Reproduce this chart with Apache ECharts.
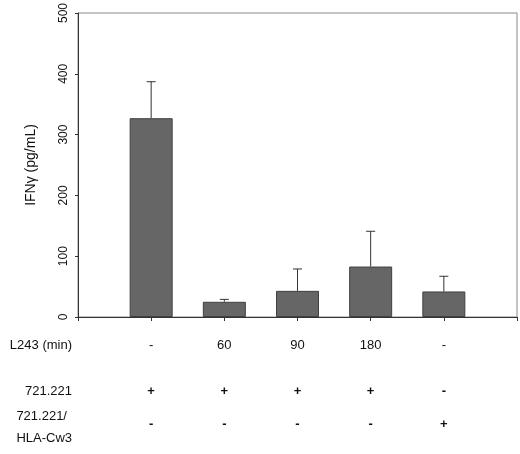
<!DOCTYPE html>
<html>
<head>
    <meta charset="utf-8" />
    <title>IFNγ</title>
    <style>
    html, body { margin: 0; padding: 0; background: #fff; }
    #chart { width: 520px; height: 454px; }
    </style>
    <script src="https://cdn.jsdelivr.net/npm/echarts@6/dist/echarts.min.js"></script>
</head>
<body>
    <div id="chart"></div>
    <script>
    // bar positions and values
    var positions = [1, 2, 3, 4, 5];
    var means = [327, 25, 43, 83, 42];
    var upper = [387, 29, 79, 141, 67];

    // table under the chart
    var rowNames = ['L243 (min)', '721.221', '721.221/\nHLA-Cw3'];
    var rowL243 = ['-', '60', '90', '180', '-'];
    var row721 = ['+', '+', '+', '+', '-'];
    var rowCw3 = ['-', '-', '-', '-', '+'];

    var yTicks = [0, 100, 200, 300, 400, 500];

    var font = 'Liberation Sans, Arial, sans-serif';

    var barData = positions.map(function(p, i) { return [p, means[i]]; });
    var errData = positions.map(function(p, i) { return [p, means[i], upper[i]]; });

    var chart = echarts.init(document.getElementById('chart'));

    var option = {
        animation: false,
        grid: {
            left: 78,
            right: 3,
            top: 11,
            bottom: 137,
            show: true,
            borderColor: '#8a8a8a',
            borderWidth: 1
        },
        xAxis: {
            type: 'value',
            min: 0,
            max: 6,
            interval: 1,
            splitLine: { show: false },
            axisLine: { lineStyle: { color: '#333', width: 1 } },
            axisTick: { show: true, inside: false, length: 4, lineStyle: { color: '#333' } },
            axisLabel: {
                margin: 8,
                fontFamily: font,
                color: '#111',
                formatter: function(v) {
                    var i = positions.indexOf(v);
                    if (i < 0) return '';
                    return '{a|' + rowL243[i] + '}\n{b|' + row721[i] + '}\n{c|' + rowCw3[i] + '}';
                },
                rich: {
                    a: { fontSize: 13, lineHeight: 40, fontFamily: font, color: '#111' },
                    b: { fontSize: 13, lineHeight: 52, fontFamily: font, color: '#111', fontWeight: 'bold' },
                    c: { fontSize: 13, lineHeight: 14, fontFamily: font, color: '#111', fontWeight: 'bold' }
                }
            }
        },
        yAxis: {
            type: 'value',
            min: yTicks[0],
            max: yTicks[yTicks.length - 1],
            interval: 100,
            name: 'IFNγ (pg/mL)',
            nameLocation: 'middle',
            nameRotate: 90,
            nameGap: 40,
            nameTextStyle: { fontFamily: font, fontSize: 14, color: '#111' },
            splitLine: { show: false },
            axisLine: { show: true, lineStyle: { color: '#333', width: 1 } },
            axisTick: { show: true, inside: false, length: 3, lineStyle: { color: '#333' } },
            axisLabel: {
                rotate: 90,
                margin: 8,
                fontFamily: font,
                fontSize: 12,
                color: '#111'
            }
        },
        graphic: [
            {
                type: 'text', right: 448, top: 339,
                style: { text: rowNames[0], font: '13px ' + font, fill: '#111', align: 'right' }
            },
            {
                type: 'text', right: 448, top: 385,
                style: { text: rowNames[1], font: '13px ' + font, fill: '#111', align: 'right' }
            },
            {
                type: 'text', right: 448, top: 405,
                style: { text: rowNames[2], font: '13px ' + font, fill: '#111', align: 'right', lineHeight: 22 }
            }
        ],
        series: [
            {
                type: 'bar',
                data: barData,
                barWidth: 43,
                itemStyle: { color: '#666666', borderColor: '#404040', borderWidth: 1 },
                z: 2
            },
            {
                type: 'custom',
                data: errData,
                z: 3,
                renderItem: function(params, api) {
                    var x = api.value(0);
                    var lo = api.coord([x, api.value(1)]);
                    var hi = api.coord([x, api.value(2)]);
                    var cap = 4.5;
                    var st = { stroke: '#333', lineWidth: 1 };
                    return {
                        type: 'group',
                        children: [
                            { type: 'line', shape: { x1: lo[0], y1: lo[1], x2: hi[0], y2: hi[1] }, style: st },
                            { type: 'line', shape: { x1: hi[0] - cap, y1: hi[1], x2: hi[0] + cap, y2: hi[1] }, style: st }
                        ]
                    };
                }
            }
        ]
    };

    chart.setOption(option);
    </script>
</body>
</html>
